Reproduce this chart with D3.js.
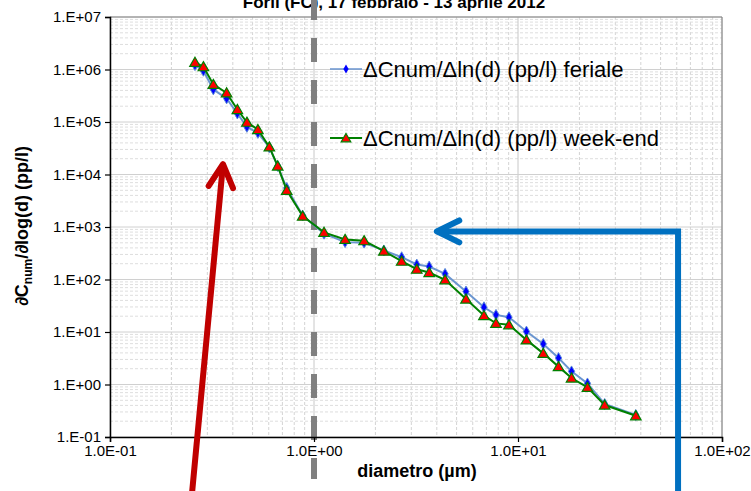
<!DOCTYPE html>
<html>
<head>
<meta charset="utf-8">
<script src="https://cdn.jsdelivr.net/npm/d3@7"></script>
<style>
  body { margin: 0; background: #fff; }
  svg { display: block; font-family: Arial, "Liberation Sans", sans-serif; }
  .tick text { font-size: 15px; fill: #000; }
  .legend text { font-size: 22px; fill: #000; }
</style>
</head>
<body>
<svg id="chart" width="751" height="491"></svg>
<script>
// diameters (µm) and counts
const diametro = [0.261, 0.287, 0.321, 0.373, 0.421, 0.469, 0.531, 0.604, 0.664, 0.735,
  0.88, 1.12, 1.42, 1.76, 2.2, 2.69, 3.19, 3.67, 4.39, 5.56,
  6.81, 7.8, 9.03, 11.0, 13.3, 15.8, 18.3, 21.9, 26.6, 37.8];
const feriale = [1.21e6, 9.45e5, 4.17e5, 2.81e5, 1.45e5, 8.06e4, 6.19e4, 3.30e4, 1.45e4, 5530,
  1650, 745, 515, 502, 358, 266, 193, 177, 128, 59,
  29.6, 21.2, 19.1, 10.2, 5.93, 3.2, 1.78, 1.05, 0.425, 0.262];
const weekend = [1.37e6, 1.13e6, 5.2e5, 3.59e5, 1.73e5, 9.9e4, 7.19e4, 3.35e4, 1.45e4, 5000,
  1610, 789, 580, 548, 347, 223, 157, 136, 98.7, 42.4,
  20.6, 14.6, 13.7, 7.07, 3.92, 2.19, 1.33, 0.88, 0.406, 0.254];

const xTicks = [0.1, 1, 10, 100];
const yTicks = [1e-1, 1, 1e1, 1e2, 1e3, 1e4, 1e5, 1e6, 1e7];
const legendLabels = ["\u0394Cnum/\u0394ln(d) (pp/l) feriale", "\u0394Cnum/\u0394ln(d) (pp/l) week-end"];
const titolo = "Forlì (FC), 17 febbraio - 13 aprile 2012";

// annotations, in data units
const redArrow = [[0.252, 0.008], [0.358, 1.57e4]];
const blueArrow = [[60.9, 0.005], [60.9, 824], [4.0, 824]];
const cutLine = [[1, 2.5e7], [1, 0.0159]];

const width = 751, height = 491;
const margin = {top: 17, right: 29, bottom: 54, left: 110};
const w = width - margin.left - margin.right,
    h = height - margin.top - margin.bottom;

let svg = d3.select("#chart");

let x = d3.scaleLog().domain([0.1, 100]).range([margin.left, margin.left + w]);
let y = d3.scaleLog().domain([0.1, 1e7]).range([margin.top + h, margin.top]);

// minor values per decade
function minors(lo, hi) {
    let out = [];
    for (let e = Math.log10(lo); e < Math.log10(hi); e++) {
        for (let k = 2; k <= 9; k++) out.push(k * Math.pow(10, e));
    }
    return out;
}

let grid = svg.append("g");
grid.selectAll(".vmin").data(minors(0.1, 100)).enter().append("line")
    .attr("x1", d => x(d)).attr("x2", d => x(d))
    .attr("y1", margin.top).attr("y2", margin.top + h)
    .attr("stroke", "#d4d4d4").attr("stroke-dasharray", "3,2");
grid.selectAll(".hmin").data(minors(0.1, 1e7)).enter().append("line")
    .attr("x1", margin.left).attr("x2", margin.left + w)
    .attr("y1", d => y(d)).attr("y2", d => y(d))
    .attr("stroke", "#dedede").attr("stroke-dasharray", "3,2");
grid.selectAll(".vmaj").data(xTicks).enter().append("line")
    .attr("x1", d => x(d)).attr("x2", d => x(d))
    .attr("y1", margin.top).attr("y2", margin.top + h)
    .attr("stroke", "#c8c8c8");
grid.selectAll(".hmaj").data(yTicks).enter().append("line")
    .attr("x1", margin.left).attr("x2", margin.left + w)
    .attr("y1", d => y(d)).attr("y2", d => y(d))
    .attr("stroke", "#d0d0d0");

// plot border top / right
svg.append("path")
    .attr("d", "M" + margin.left + "," + margin.top + "H" + (margin.left + w) + "V" + (margin.top + h))
    .attr("fill", "none").attr("stroke", "#808080");

// title, cut off by the top edge as in the original
svg.append("text")
    .attr("x", 394).attr("y", 8)
    .attr("text-anchor", "middle")
    .attr("font-size", "17px").attr("font-weight", "bold")
    .text(titolo);

// gray dashed line at 1 µm
let cy1 = y(cutLine[0][1]);
svg.append("line")
    .attr("x1", x(cutLine[0][0])).attr("x2", x(cutLine[1][0]))
    .attr("y1", cy1).attr("y2", y(cutLine[1][1]))
    .attr("stroke", "#808080").attr("stroke-width", 6)
    .attr("stroke-dasharray", "24,18")
    .attr("stroke-dashoffset", ((cy1 + 4) % 42 + 42) % 42);

// axes
let xAxis = svg.append("g")
    .attr("transform", "translate(0," + (margin.top + h) + ")")
    .call(d3.axisBottom(x).tickValues(xTicks).tickSize(5).tickPadding(3)
        .tickFormat(d => d3.format(".1e")(d).replace("e", "E").replace(/E([+-])(\d)$/, "E$10$2")));
let yAxis = svg.append("g")
    .attr("transform", "translate(" + margin.left + ",0)")
    .call(d3.axisLeft(y).tickValues(yTicks).tickSize(5).tickPadding(4)
        .tickFormat(d => d3.format(".0e")(d).replace("e", ".E").replace(/E([+-])(\d)$/, "E$10$2")));
[xAxis, yAxis].forEach(a => {
    a.select(".domain").attr("stroke", "#000").attr("stroke-width", 1.5);
    a.selectAll(".tick line").attr("stroke", "#000").attr("stroke-width", 1.2);
    a.selectAll(".tick text").attr("font-family", "Arial, 'Liberation Sans', sans-serif");
});

// axis titles
svg.append("text")
    .attr("x", 417).attr("y", 477)
    .attr("text-anchor", "middle")
    .attr("font-size", "18px").attr("font-weight", "bold")
    .text("diametro (µm)");
let yt = svg.append("text")
    .attr("transform", "translate(28,226) rotate(-90)")
    .attr("text-anchor", "middle")
    .attr("font-size", "18px").attr("font-weight", "bold");
yt.append("tspan").text("\u2202C");
yt.append("tspan").attr("font-size", "12px").attr("dy", 4).text("num");
yt.append("tspan").attr("dy", -4).text("/\u2202log(d) (pp/l)");

// series
let line = d3.line().x(d => x(d[0])).y(d => y(d[1]));
let fer = diametro.map((d, i) => [d, feriale[i]]);
let wkd = diametro.map((d, i) => [d, weekend[i]]);

svg.append("path").datum(fer).attr("d", line)
    .attr("fill", "none").attr("stroke", "#6a95d0").attr("stroke-width", 2);
svg.selectAll(".dia").data(fer).enter().append("path")
    .attr("transform", d => "translate(" + x(d[0]) + "," + y(d[1]) + ")")
    .attr("d", d3.symbol(d3.symbolDiamond, 34))
    .attr("fill", "#0000ff").attr("stroke", "#5a8ad8").attr("stroke-width", 1);

svg.append("path").datum(wkd).attr("d", line)
    .attr("fill", "none").attr("stroke", "#008000").attr("stroke-width", 2);
svg.selectAll(".tri").data(wkd).enter().append("path")
    .attr("transform", d => "translate(" + x(d[0]) + "," + (y(d[1]) + 1) + ")")
    .attr("d", d3.symbol(d3.symbolTriangle, 48))
    .attr("fill", "#ff0000").attr("stroke", "#008000").attr("stroke-width", 1.2);

// legend
let legend = svg.append("g").attr("class", "legend");
let legY = [69, 138];
legendLabels.forEach((lab, i) => {
    let g = legend.append("g").attr("transform", "translate(330," + legY[i] + ")");
    g.append("line").attr("x1", 0).attr("x2", 32)
        .attr("stroke", i ? "#008000" : "#6a95d0").attr("stroke-width", i ? 2 : 1.5);
    if (i) {
        g.append("path").attr("transform", "translate(16,1)")
            .attr("d", d3.symbol(d3.symbolTriangle, 40))
            .attr("fill", "#ff0000").attr("stroke", "#008000").attr("stroke-width", 1.2);
    } else {
        g.append("path").attr("transform", "translate(16,0)")
            .attr("d", d3.symbol(d3.symbolDiamond, 24))
            .attr("fill", "#0000ff");
    }
    g.append("text").attr("x", 33).attr("dy", "0.35em").text(lab);
});

// arrows
function arrow(pts, color, spread, len) {
    let p = pts.map(d => [x(d[0]), y(d[1])]);
    svg.append("path").attr("d", d3.line()(p))
        .attr("fill", "none").attr("stroke", color).attr("stroke-width", 6)
        .attr("stroke-linejoin", "miter");
    let tip = p[p.length - 1], prev = p[p.length - 2];
    let ang = Math.atan2(prev[1] - tip[1], prev[0] - tip[0]);
    let a1 = ang + spread, a2 = ang - spread;
    let head = [[tip[0] + len * Math.cos(a1), tip[1] + len * Math.sin(a1)], tip,
        [tip[0] + len * Math.cos(a2), tip[1] + len * Math.sin(a2)]];
    svg.append("path").attr("d", d3.line()(head))
        .attr("fill", "none").attr("stroke", color).attr("stroke-width", 6)
        .attr("stroke-linecap", "round").attr("stroke-linejoin", "round");
}
arrow(redArrow, "#c00000", 28 * Math.PI / 180, 26);
arrow(blueArrow, "#0070c0", 26 * Math.PI / 180, 25);
</script>
</body>
</html>
